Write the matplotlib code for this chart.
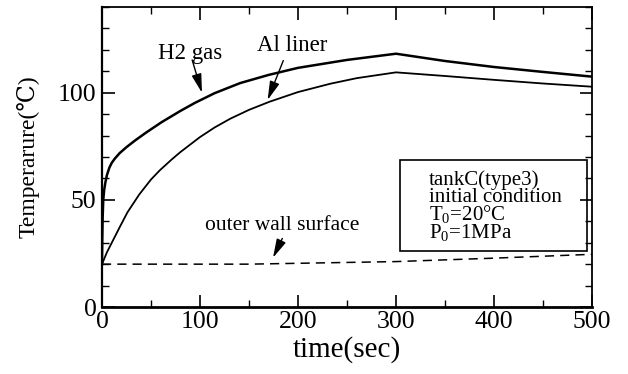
import matplotlib
matplotlib.use("Agg")
import matplotlib.pyplot as plt
from matplotlib.patches import Rectangle
from matplotlib.ticker import MultipleLocator

plt.rcParams['font.family'] = ['Liberation Serif', 'DejaVu Serif']
plt.rcParams['mathtext.fontset'] = 'custom'
plt.rcParams['mathtext.rm'] = 'Liberation Serif'

# H2 gas temperature
t_gas = [0, 0.3, 0.7, 1.3, 2.2, 3.4, 5, 7.5, 10, 13, 18, 25, 34, 45, 61, 80,
         95, 115, 141, 170, 200, 250, 300, 350, 400, 450, 500]
T_gas = [20, 32, 42, 50, 54.5, 58, 61.5, 65, 67.3, 69.2, 71.8, 74.6, 77.8, 81.4,
         86.3, 91.5, 95.3, 99.8, 104.5, 108.3, 111.6, 115.3, 118.2, 114.8, 112,
         109.7, 107.5]

# Al liner temperature
t_liner = [0, 5, 10, 13, 18, 26, 38, 50, 59, 71, 80, 100, 115, 131, 150, 171,
           200, 233, 260, 300, 350, 400, 450, 500]
T_liner = [20, 25.5, 30, 32.7, 37.2, 44.2, 52.5, 59.5, 63.8, 68.8, 72.3, 79.3,
           83.8, 87.9, 92, 95.8, 100.3, 104.2, 106.8, 109.5, 107.8, 106, 104.3,
           102.8]

# outer wall surface temperature
t_wall = [0, 150, 200, 300, 400, 500]
T_wall = [20, 20, 20.4, 21.2, 22.8, 24.6]

box_lines = ['tankC(type3)', 'initial condition', 'T$_0$=20°C', 'P$_0$=1MPa']

fig = plt.figure(figsize=(6.28, 3.74), dpi=100)
ax = fig.add_axes([0.1624, 0.1791, 0.7803, 0.8022])

ax.plot(t_gas, T_gas, color='black', lw=1.8)
ax.plot(t_liner, T_liner, color='black', lw=1.3)
ax.plot(t_wall, T_wall, color='black', lw=1.1, dashes=(6, 4))

ax.set_xlim(0, 500)
ax.set_ylim(0, 140)
ax.xaxis.set_major_locator(MultipleLocator(100))
ax.xaxis.set_minor_locator(MultipleLocator(50))
ax.yaxis.set_major_locator(MultipleLocator(50))
ax.yaxis.set_minor_locator(MultipleLocator(10))
ax.tick_params(which='both', direction='in', top=True, right=True, labelsize=18.5)
ax.tick_params(which='major', length=9, width=1.2)
ax.tick_params(which='minor', length=5, width=1.0)
ax.tick_params(axis='x', pad=3)
ax.tick_params(axis='y', pad=4)
for s in ax.spines.values():
    s.set_linewidth(1.3)
ax.spines['bottom'].set_linewidth(2)
ax.spines['left'].set_linewidth(1.6)

ax.set_xlabel('time(sec)', fontsize=21, labelpad=2)
ax.set_ylabel('Temperarure(℃)', fontsize=17, labelpad=13)

arrow = dict(arrowstyle='-|>,head_width=0.25,head_length=0.95', color='black',
             lw=1.0, shrinkA=0, shrinkB=0, mutation_scale=12)
ax.text(90, 118.5, 'H2 gas', fontsize=16.5, ha='center', va='center')
ax.annotate('', xy=(102, 100), xytext=(92, 115.3), arrowprops=arrow)
ax.text(194, 122, 'Al liner', fontsize=16.5, ha='center', va='center')
ax.annotate('', xy=(169, 96.6), xytext=(185, 115), arrowprops=arrow)
ax.text(184, 38, 'outer wall surface', fontsize=15.5, ha='center', va='center')
ax.annotate('', xy=(174.5, 23), xytext=(184, 32), arrowprops=arrow)

ax.add_patch(Rectangle((0.608, 0.187), 0.382, 0.303, transform=ax.transAxes,
                       fill=False, edgecolor='black', lw=1.2, zorder=3))
ax.text(0.667, 0.332, '\n'.join(box_lines), transform=ax.transAxes,
        fontsize=15, ha='left', va='center', linespacing=0.8)

fig.savefig('out.png', dpi=100)
